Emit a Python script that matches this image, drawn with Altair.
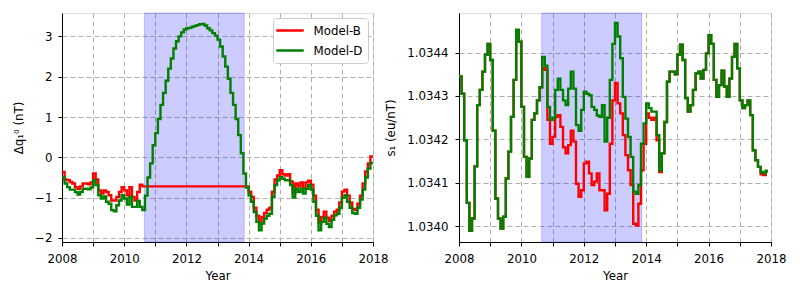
import altair as alt
import pandas as pd

# ---------------- data ----------------
MODELS = ["Model-B", "Model-D"]
COLORS = ["red", "green"]
SPAN_START = 2010.65
SPAN_END = 2013.86

# Left panel: monthly steps 2008.0 .. 2017.92, delta q_1^0 (nT)
left_model_d = [
    -0.49, -0.65, -0.74, -0.80, -0.80, -0.86, -0.92, -0.86, -0.78, -0.78, -0.79, -0.75,
    -0.57, -0.69, -0.94, -1.02, -0.97, -1.10, -1.15, -1.31, -1.34, -1.19, -1.07, -0.94,
    -1.02, -1.17, -0.98, -1.23, -1.23, -1.08, -1.23, -1.31, -0.95, -0.50, -0.15, 0.30,
    0.60, 0.95, 1.30, 1.60, 1.90, 2.20, 2.45, 2.70, 2.88, 3.00, 3.10, 3.17,
    3.20, 3.21, 3.24, 3.26, 3.28, 3.30, 3.31, 3.27, 3.20, 3.15, 3.08, 3.02,
    2.92, 2.75, 2.50, 2.25, 1.95, 1.60, 1.30, 0.95, 0.55, 0.10, -0.40, -0.75,
    -0.95, -1.10, -1.36, -1.60, -1.81, -1.64, -1.52, -1.45, -1.40, -0.98, -0.69, -0.57,
    -0.49, -0.53, -0.57, -0.57, -0.69, -1.00, -0.78, -0.86, -0.78, -0.90, -0.78, -0.69,
    -0.80, -1.10, -1.45, -1.81, -1.60, -1.50, -1.65, -1.73, -1.55, -1.44, -1.40, -1.25,
    -1.00, -0.94, -1.10, -1.25, -1.38, -1.40, -1.25, -1.05, -0.80, -0.50, -0.28, -0.14,
]
left_model_b = [
    -0.36, -0.55, -0.57, -0.61, -0.65, -0.74, -0.78, -0.72, -0.65, -0.65, -0.67, -0.62,
    -0.40, -0.55, -0.82, -0.90, -0.82, -0.86, -0.94, -1.07, -1.07, -0.98, -0.86, -0.74,
    -0.82, -0.94, -0.74, -0.98, -1.07, -0.86, -0.68, -0.72, -0.72, -0.72, -0.72, -0.72,
    -0.72, -0.72, -0.72, -0.72, -0.72, -0.72, -0.72, -0.72, -0.72, -0.72, -0.72, -0.72,
    -0.72, -0.72, -0.72, -0.72, -0.72, -0.72, -0.72, -0.72, -0.72, -0.72, -0.72, -0.72,
    -0.72, -0.72, -0.72, -0.72, -0.72, -0.72, -0.72, -0.72, -0.72, -0.72, -0.72, -0.72,
    -0.85, -0.98, -1.25, -1.45, -1.64, -1.48, -1.38, -1.30, -1.25, -0.85, -0.55, -0.45,
    -0.32, -0.42, -0.45, -0.42, -0.60, -0.88, -0.65, -0.72, -0.62, -0.78, -0.62, -0.58,
    -0.68, -0.95, -1.30, -1.62, -1.48, -1.35, -1.50, -1.58, -1.45, -1.35, -1.30, -1.12,
    -0.85, -0.80, -0.95, -1.12, -1.28, -1.30, -1.15, -0.95, -0.65, -0.35, -0.15, 0.02,
]
left_end = 2018.0

# Right panel: monthly steps 2008.0 .. 2017.83, s_1 (eu/nT)
right_model_d = [
    1.034345, 1.034305, 1.034198, 1.034054, 1.033990, 1.034018, 1.034138, 1.034279, 1.034314, 1.034356, 1.034395, 1.034420,
    1.034383, 1.034220, 1.034064, 1.034018, 1.033995, 1.034022, 1.034110, 1.034172, 1.034252, 1.034337, 1.034452, 1.034425,
    1.034275, 1.034160, 1.034114, 1.034156, 1.034245, 1.034260, 1.034290, 1.034320, 1.034390, 1.034370, 1.034275, 1.034245,
    1.034250, 1.034314, 1.034340, 1.034314, 1.034290, 1.034279, 1.034317, 1.034356, 1.034317, 1.034233, 1.034220, 1.034268,
    1.034310, 1.034305, 1.034302, 1.034275, 1.034268, 1.034255, 1.034252, 1.034279, 1.034195, 1.034250, 1.034337, 1.034420,
    1.034468, 1.034437, 1.034387, 1.034298, 1.034248, 1.034206, 1.034160, 1.034080, 1.034075, 1.034095, 1.034190, 1.034237,
    1.034283, 1.034272, 1.034264, 1.034264, 1.034210, 1.034129, 1.034168, 1.034240, 1.034333, 1.034356, 1.034356, 1.034350,
    1.034395, 1.034418, 1.034383, 1.034295, 1.034264, 1.034279, 1.034314, 1.034352, 1.034356, 1.034340, 1.034360, 1.034398,
    1.034440, 1.034420, 1.034337, 1.034298, 1.034325, 1.034358, 1.034322, 1.034298, 1.034340, 1.034390, 1.034420, 1.034364,
    1.034290, 1.034272, 1.034279, 1.034290, 1.034256, 1.034175, 1.034152, 1.034137, 1.034125, 1.034122, 1.034128,
]
right_model_b = [
    1.034345, 1.034305, 1.034198, 1.034054, 1.033990, 1.034018, 1.034138, 1.034279, 1.034314, 1.034356, 1.034395, 1.034420,
    1.034383, 1.034220, 1.034064, 1.034018, 1.033995, 1.034022, 1.034110, 1.034172, 1.034252, 1.034337, 1.034452, 1.034425,
    1.034275, 1.034160, 1.034114, 1.034156, 1.034245, 1.034260, 1.034290, 1.034320, 1.034364, 1.034360, 1.034245, 1.034190,
    1.034206, 1.034252, 1.034256, 1.034229, 1.034182, 1.034168, 1.034187, 1.034220, 1.034195, 1.034098, 1.034068, 1.034083,
    1.034145, 1.034149, 1.034122, 1.034095, 1.034103, 1.034122, 1.034083, 1.034083, 1.034037, 1.034075, 1.034190, 1.034290,
    1.034330, 1.034283, 1.034260, 1.034210, 1.034164, 1.034129, 1.034095, 1.034006, 1.034002, 1.034052, 1.034129, 1.034190,
    1.034260, 1.034250, 1.034245, 1.034250, 1.034198, 1.034125, 1.034168, 1.034240, 1.034333, 1.034356, 1.034356, 1.034350,
    1.034395, 1.034418, 1.034383, 1.034295, 1.034264, 1.034279, 1.034314, 1.034352, 1.034356, 1.034340, 1.034360, 1.034398,
    1.034440, 1.034420, 1.034337, 1.034298, 1.034325, 1.034358, 1.034322, 1.034298, 1.034340, 1.034390, 1.034420, 1.034364,
    1.034290, 1.034272, 1.034279, 1.034290, 1.034256, 1.034175, 1.034152, 1.034137, 1.034120, 1.034118, 1.034126,
]
right_end = 2017.90

X_TICKS = list(range(2008, 2019))
LEFT_Y_TICKS = [-2, -1, 0, 1, 2, 3]
RIGHT_Y_TICKS = [1.0340, 1.0341, 1.0342, 1.0343, 1.0344]


def long_frame(series_b, series_d, t_end):
    rows = []
    for name, vals in zip(MODELS, [series_b, series_d]):
        n = len(vals)
        for i, v in enumerate(vals):
            rows.append({"t": 2008 + i / 12.0, "v": v, "model": name, "k": i})
        rows.append({"t": t_end, "v": vals[-1], "model": name, "k": n})
    return pd.DataFrame(rows)


left_df = long_frame(left_model_b, left_model_d, left_end)
right_df = long_frame(right_model_b, right_model_d, right_end)
span_df = pd.DataFrame({"start": [SPAN_START], "end": [SPAN_END]})

FONT = "DejaVu Sans"
FS = 11.8
W, H = 311, 229
LW = 2.4

grid_kw = dict(grid=True, gridColor="#b0b0b0", gridDash=[5, 3], gridWidth=1)
common_axis = dict(
    labelFont=FONT, labelFontSize=FS, labelColor="black",
    titleFont=FONT, titleFontSize=FS, titleFontWeight="normal", titleColor="black",
    tickColor="black", tickSize=4, tickWidth=1, domainColor="black", domainWidth=1,
)

x_axis = alt.Axis(
    values=X_TICKS, format="d", title="Year",
    labelExpr="datum.value % 2 == 0 ? datum.label : ''",
    labelFlush=False, labelPadding=7, titlePadding=6,
    **grid_kw, **common_axis,
)
x_scale = alt.Scale(domain=[2008, 2018], nice=False, zero=False)

color_left = alt.Color(
    "model:N",
    scale=alt.Scale(domain=MODELS, range=COLORS),
    legend=alt.Legend(
        title=None, orient="top-right", offset=5,
        symbolType="M-2.2,0L2.2,0", symbolSize=156, symbolStrokeWidth=2.5,
        symbolOffset=4.5,
        labelFont=FONT, labelFontSize=FS, labelColor="black", labelOffset=16,
        padding=5, rowPadding=5,
        strokeColor="#cccccc", fillColor="white", cornerRadius=3,
    ),
)
color_right = alt.Color(
    "model:N", scale=alt.Scale(domain=MODELS, range=COLORS), legend=None
)

span_mark = dict(color="blue", fillOpacity=0.2, stroke="blue", strokeOpacity=0.2, strokeWidth=1)

left_span = alt.Chart(span_df).mark_rect(**span_mark).encode(
    x=alt.X("start:Q", scale=x_scale, axis=x_axis), x2="end:Q"
)
left_lines = alt.Chart(left_df).mark_line(interpolate="step-after", strokeWidth=LW, clip=True).encode(
    x=alt.X("t:Q", scale=x_scale, axis=x_axis),
    y=alt.Y(
        "v:Q",
        scale=alt.Scale(domain=[-2.1, 3.58], nice=False, zero=False),
        axis=alt.Axis(
            values=LEFT_Y_TICKS, format="d", title="Δq₁⁰ (nT)",
            labelExpr="replace(datum.label, '-', '\u2212')",
            labelPadding=6, titlePadding=10, **grid_kw, **common_axis,
        ),
    ),
    color=color_left,
    order="k:Q",
)
left = alt.layer(left_span, left_lines).properties(width=W, height=H)

right_span = alt.Chart(span_df).mark_rect(**span_mark).encode(
    x=alt.X("start:Q", scale=x_scale, axis=x_axis), x2="end:Q"
)
right_lines = alt.Chart(right_df).mark_line(interpolate="step-after", strokeWidth=LW, clip=True).encode(
    x=alt.X("t:Q", scale=x_scale, axis=x_axis),
    y=alt.Y(
        "v:Q",
        scale=alt.Scale(domain=[1.033964, 1.034491], nice=False, zero=False),
        axis=alt.Axis(
            values=RIGHT_Y_TICKS, format=".4f", title="s₁ (eu/nT)",
            labelPadding=7, titlePadding=10, **grid_kw, **common_axis,
        ),
    ),
    color=color_right,
    order="k:Q",
)
right = alt.layer(right_span, right_lines).properties(width=W + 1, height=H)

chart = (
    alt.hconcat(left, right, spacing=86, bounds="flush")
    .resolve_scale(color="independent", y="independent")
    .configure_view(stroke="black", strokeWidth=1.2)
    .configure(font=FONT, background="white", padding={"left": 5, "top": 4, "right": 5, "bottom": 0})
)

chart.save("out.html", embed_options={"renderer": "svg", "actions": False})
